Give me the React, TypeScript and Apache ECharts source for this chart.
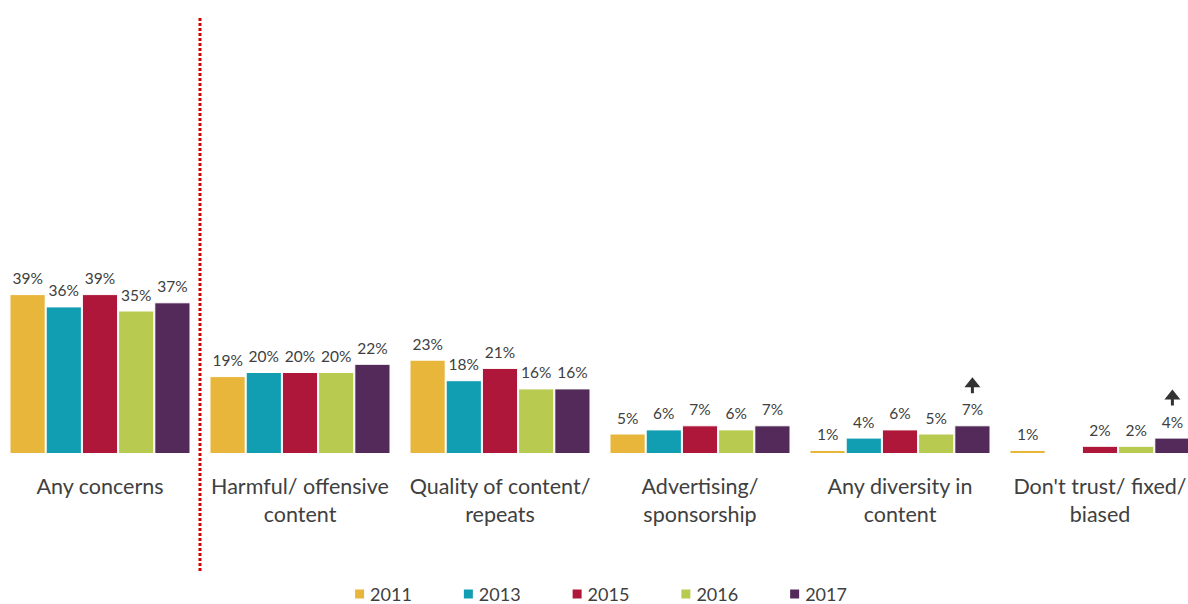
import React, { useEffect, useRef } from "react";
import * as echarts from "echarts";

const categories = [
  "Any concerns",
  "Harmful/ offensive\ncontent",
  "Quality of content/\nrepeats",
  "Advertising/\nsponsorship",
  "Any diversity in\ncontent",
  "Don't trust/ fixed/\nbiased",
];
const seriesNames = ["2011", "2013", "2015", "2016", "2017"];
const v2011 = [39, 19, 23, 5, 1, 1];
const v2013 = [36, 20, 18, 6, 4, null];
const v2015 = [39, 20, 21, 7, 6, 2];
const v2016 = [35, 20, 16, 6, 5, 2];
const v2017 = [37, 22, 16, 7, 7, 4];
const arrowFlags2017 = [false, false, false, false, true, true];
const colors = ["#E8B63A", "#129EB2", "#AE1739", "#B8CB50", "#532A5A"];

const FONT = "Lato, 'Open Sans', sans-serif";
const TEXT = "#404040";

export default function App() {
  const ref = useRef<HTMLDivElement>(null);
  useEffect(() => {
    if (!ref.current) return;
    const chart = echarts.init(ref.current, undefined, { renderer: "svg" });
    const values = [v2011, v2013, v2015, v2016, v2017];
    chart.setOption({
      animation: false,
      textStyle: { fontFamily: FONT },
      grid: { left: 0, right: 0, top: 44, bottom: 150 },
      legend: {
        top: 585,
        left: "center",
        padding: 0,
        icon: "rect",
        itemWidth: 11,
        itemHeight: 11,
        itemGap: 50,
        textStyle: { fontSize: 18, lineHeight: 18, color: TEXT, fontFamily: FONT },
        data: seriesNames,
      },
      xAxis: {
        type: "category",
        data: categories,
        axisLine: { show: false },
        axisTick: { show: false },
        axisLabel: {
          interval: 0,
          fontSize: 21.5,
          color: TEXT,
          lineHeight: 28,
          margin: 18,
          fontFamily: FONT,
        },
      },
      yAxis: { type: "value", min: 0, max: 100, show: false },
      series: seriesNames.map((name, i) => ({
        name,
        type: "bar",
        data: values[i],
        barGap: "0%",
        barCategoryGap: "9.5%",
        itemStyle: { color: colors[i], borderColor: "#ffffff", borderWidth: 1 },
        label: {
          show: true,
          position: "top",
          distance: 8,
          formatter: (p: any) => (p.value == null ? "" : p.value + "%"),
          fontSize: 15.5,
          color: TEXT,
          fontFamily: FONT,
        },
      })),
    });

    const graphics: any[] = [
      {
        type: "line",
        shape: { x1: 200, y1: 18, x2: 200, y2: 571 },
        style: { stroke: "#D40000", lineWidth: 3, lineDash: [3, 2] },
        silent: true,
      },
    ];
    try {
      const data = (chart as any).getModel().getSeriesByIndex(4).getData();
      arrowFlags2017.forEach((flag, idx) => {
        if (!flag) return;
        const l = data.getItemLayout(idx);
        const cx = l.x + l.width / 2;
        const barTop = Math.min(l.y, l.y + l.height);
        const by = barTop - 32;
        graphics.push({
          type: "polygon",
          shape: {
            points: [
              [cx - 1.5, by],
              [cx + 1.5, by],
              [cx + 1.5, by - 6],
              [cx + 8, by - 6],
              [cx, by - 16],
              [cx - 8, by - 6],
              [cx - 1.5, by - 6],
            ],
          },
          style: { fill: "#333333" },
          silent: true,
        });
      });
    } catch (e) {}
    chart.setOption({ graphic: graphics });
    return () => chart.dispose();
  }, []);
  return (
    <div
      ref={ref}
      style={{ position: "absolute", left: 0, top: 0, width: 1200, height: 604 }}
    />
  );
}
